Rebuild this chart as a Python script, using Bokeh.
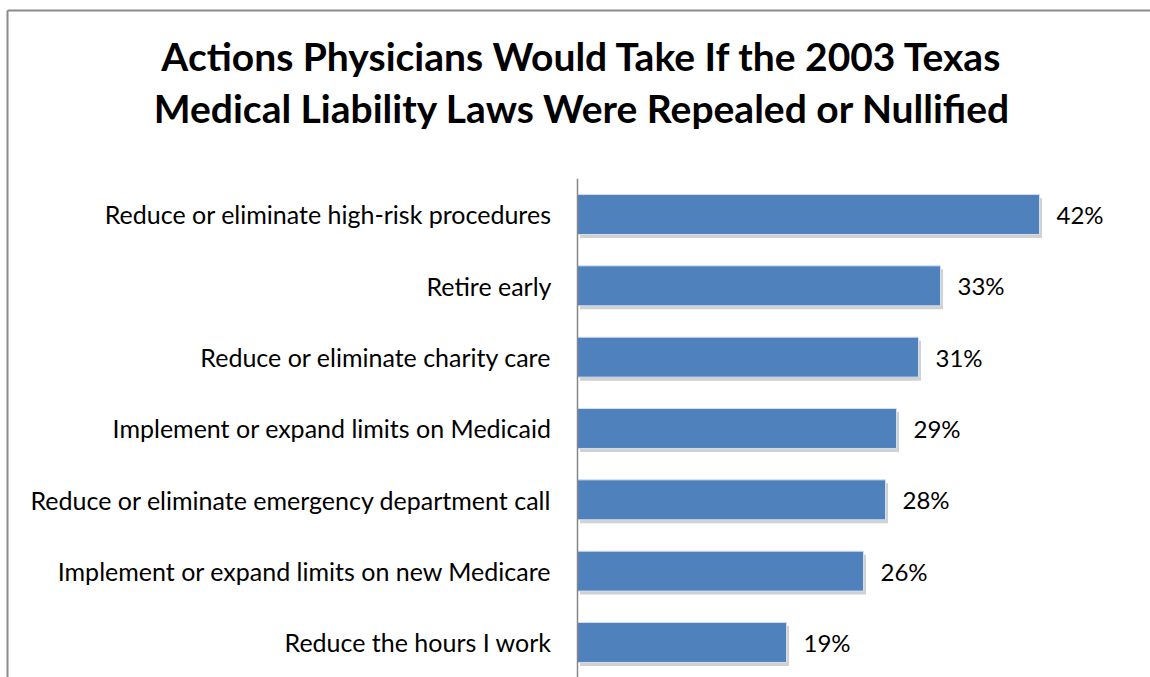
from bokeh.plotting import figure
from bokeh.models import Range1d, Label, ColumnDataSource
from bokeh.core.properties import value
from bokeh.embed import file_html
from bokeh.resources import INLINE

categories = [
    "Reduce or eliminate high-risk procedures",
    "Retire early",
    "Reduce or eliminate charity care",
    "Implement or expand limits on Medicaid",
    "Reduce or eliminate emergency department call",
    "Implement or expand limits on new Medicare",
    "Reduce the hours I work",
]
percents = [42, 33, 31, 29, 28, 26, 19]
title_lines = [
    "Actions Physicians Would Take If the 2003 Texas",
    "Medical Liability Laws Were Repealed or Nullified",
]

W, H = 1150, 677
px_per_x = 11.0
px_per_y = 71.33
x0 = -577 / px_per_x
x1 = x0 + W / px_per_x
y0 = -0.491
y1 = y0 + H / px_per_y

n = len(categories)
ypos = [n - 1 - i for i in range(n)]
sh_dx = 2.5 / px_per_x
sh_dy = 3.5 / px_per_y
src = ColumnDataSource(dict(
    y=ypos,
    pct=percents,
    cat=categories,
    lab=[f"{v}%" for v in percents],
    ys=[v - sh_dy for v in ypos],
    xs=[v + sh_dx for v in percents],
))

p = figure(width=W, height=H, output_backend="svg", toolbar_location=None,
           x_range=Range1d(x0, x1), y_range=Range1d(y0, y1),
           min_border=0, min_border_left=0, min_border_right=0,
           min_border_top=0, min_border_bottom=0)
p.axis.visible = False
p.grid.visible = False
p.outline_line_color = None
p.background_fill_color = "white"
p.border_fill_color = "white"

# chart border (left & top edges of the chart area)
bx = x0 + 7 / px_per_x
by = y1 - 10 / px_per_y
p.segment(x0=[bx, bx], y0=[y0 - 1, by], x1=[bx, x1 + 1], y1=[by, by],
          line_color="#8c8c8c", line_width=2)

# shadow
p.hbar(y="ys", right="xs", left=sh_dx, height=0.56, source=src,
       fill_color="#9a9a9a", fill_alpha=0.45, line_color=None)
# bars
p.hbar(y="y", right="pct", left=0, height=0.56, source=src,
       fill_color="#4F81BD", line_color="#d3dfee", line_width=1)

# axis line
p.segment(x0=[0], y0=[-0.5], x1=[0], y1=[n - 0.5],
          line_color="#868686", line_width=1.5)

# category labels
p.text(x=0, y="y", text="cat", source=src, x_offset=-26,
       text_align="right", text_baseline="middle",
       text_font=value("Lato"), text_font_size="25px", text_color="black")
# value labels
p.text(x="pct", y="y", text="lab", source=src, x_offset=17,
       text_align="left", text_baseline="middle",
       text_font=value("Lato"), text_font_size="24px", text_color="black")

xc = x0 + 582 / px_per_x
for line, yy in zip(title_lines, [8.225, 7.495]):
    p.add_layout(Label(x=xc, y=yy, text=line, text_align="center",
                       text_baseline="alphabetic", text_font="Lato",
                       text_font_style="bold", text_font_size="39px",
                       text_color="black"))

open("out.html", "w").write(file_html(p, INLINE))
